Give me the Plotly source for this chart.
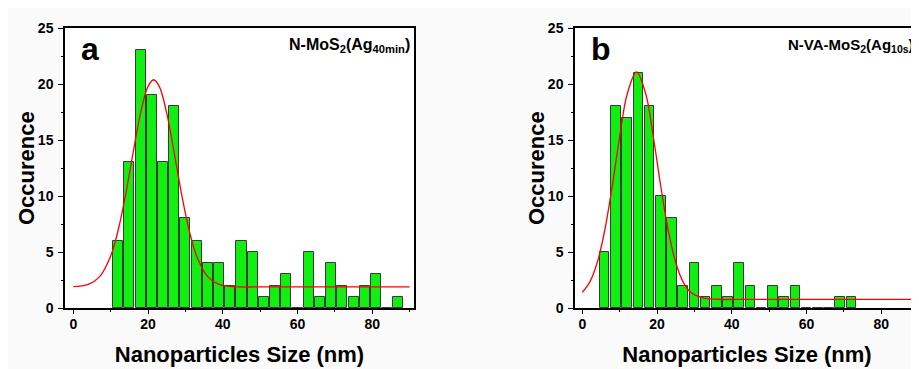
import plotly.graph_objects as go

# ---------------- data ----------------
a_bin_centers = [12, 15, 18, 21, 24, 27, 30, 33, 36, 39, 42, 45, 48, 51, 54, 57,
                 60, 63, 66, 69, 72, 75, 78, 81, 84, 87]
a_counts = [6, 13, 23, 19, 13, 18, 8, 6, 4, 4, 2, 6, 5, 1, 2, 3,
            0, 5, 1, 4, 2, 1, 2, 3, 0, 1]

b_bin_centers = [6, 9, 12, 15, 18, 21, 24, 27, 30, 33, 36, 39, 42, 45, 48, 51,
                 54, 57, 60, 63, 66, 69, 72]
b_counts = [5, 18, 17, 21, 18, 10, 8, 2, 4, 1, 2, 1, 4, 2, 0, 2,
            1, 2, 0, 0, 0, 1, 1]

# fitted curves
a_fit_x = [0, 4, 7, 10, 12, 14, 16, 18, 20, 21.5, 23, 25, 27, 29, 31, 33, 36, 39, 43, 50, 90]
a_fit_y = [1.90, 2.11, 2.78, 4.65, 6.94, 10.13, 13.86, 17.40, 19.79, 20.38, 19.79,
           17.40, 13.86, 10.13, 6.94, 4.65, 2.78, 2.11, 1.90, 1.88, 1.88]

b_fit_x = [0, 2, 4, 6, 8, 10, 12, 14.5, 17, 19, 21, 23, 25, 27, 29, 32, 36, 45, 95]
b_fit_y = [1.40, 2.31, 4.06, 6.92, 10.87, 15.29, 19.08, 21.07, 19.08, 15.29, 10.87,
           6.92, 4.06, 2.31, 1.40, 0.93, 0.78, 0.77, 0.77]

x_tick_vals = [0, 20, 40, 60, 80]
y_tick_vals = [0, 5, 10, 15, 20, 25]

panel_letters = ["a", "b"]
panel_labels = ["N-MoS<sub>2</sub>(Ag<sub>40min</sub>)",
                "N-VA-MoS<sub>2</sub>(Ag<sub>10s</sub>)"]
x_title = "Nanoparticles Size (nm)"
y_title = "Occurence"

# ---------------- figure ----------------
# page has an 8px body margin, so the figure is 8px smaller than the window
OFF = 8
W, H = 919 - OFF, 369 - OFF
FONT = "Liberation Sans, Arial, sans-serif"
BAR_COLOR = "#11ee11"

fig = go.Figure()

fig.add_trace(go.Bar(x=a_bin_centers, y=a_counts, width=2.7,
                     marker=dict(color=BAR_COLOR, line=dict(color="#3a3a3a", width=1)),
                     xaxis="x", yaxis="y", showlegend=False))
fig.add_trace(go.Scatter(x=a_fit_x, y=a_fit_y, mode="lines", line_shape="spline",
                         line=dict(color="#ff0000", width=1.3),
                         xaxis="x", yaxis="y", showlegend=False))
fig.add_trace(go.Bar(x=b_bin_centers, y=b_counts, width=2.55,
                     marker=dict(color=BAR_COLOR, line=dict(color="#3a3a3a", width=1)),
                     xaxis="x2", yaxis="y2", showlegend=False))
fig.add_trace(go.Scatter(x=b_fit_x, y=b_fit_y, mode="lines", line_shape="spline",
                         line=dict(color="#ff0000", width=1.3),
                         xaxis="x2", yaxis="y2", showlegend=False))

tickfont = dict(family=FONT, size=14, color="black", weight="bold")
titlefont = dict(family=FONT, size=22, color="black", weight="bold")

def xax(domain, rng, anchor):
    return dict(domain=domain, range=rng, anchor=anchor,
                showgrid=False, zeroline=False,
                showline=True, linecolor="black", linewidth=1.5, mirror=True,
                ticks="outside", ticklen=4, tickwidth=1.3, tickcolor="black",
                ticklabelstandoff=-2,
                tickvals=x_tick_vals, tickfont=tickfont,
                minor=dict(dtick=10, tick0=0, ticks="outside", ticklen=2.5,
                           tickwidth=1.2, tickcolor="black"),
                title=dict(text=x_title, font=titlefont, standoff=16))

def yax(domain, anchor, mirror):
    return dict(domain=domain, range=[0, 25], anchor=anchor,
                showgrid=False, zeroline=False,
                showline=True, linecolor="black", linewidth=1.5, mirror=mirror,
                ticks="outside", ticklen=5, tickwidth=1.3, tickcolor="black",
                ticklabelstandoff=2,
                tickvals=y_tick_vals, tickfont=tickfont,
                minor=dict(dtick=2.5, tick0=0, ticks="outside", ticklen=2.5,
                           tickwidth=1.2, tickcolor="black"))

# plot-area positions in page pixels
a_left, a_right = 65 - OFF, 414 - OFF
b_left = 575 - OFF
top, bottom = 28 - OFF, 308 - OFF
px_per_unit = 3.737
a_x0 = 73.3 - OFF   # pixel of x = 0 in panel a
b_x0 = 582.3 - OFF  # pixel of x = 0 in panel b

fig.update_layout(
    width=W, height=H,
    margin=dict(l=0, r=0, t=top, b=H - bottom, pad=0),
    paper_bgcolor="#fafafa",
    plot_bgcolor="white",
    bargap=0,
    xaxis=xax([a_left / W, a_right / W],
              [(a_left - a_x0) / px_per_unit, (a_right - a_x0) / px_per_unit], "y"),
    yaxis=yax([0, 1], "x", True),
    xaxis2=xax([b_left / W, 1.0],
               [(b_left - b_x0) / px_per_unit, (W - b_x0) / px_per_unit], "y2"),
    yaxis2=yax([0, 1], "x2", False),
)

# y-axis titles (rotated), positioned 39px left of each y axis
for left in (a_left, b_left):
    fig.add_annotation(text=y_title, xref="paper", yref="paper",
                       x=(left - 39) / W, y=0.5, xanchor="center", yanchor="middle",
                       textangle=-90, showarrow=False, font=titlefont)

# panel letters and sample labels
for i, (xr, yr) in enumerate([("x domain", "y domain"), ("x2 domain", "y2 domain")]):
    fig.add_annotation(text=panel_letters[i], xref=xr, yref=yr,
                       x=0.04, y=0.995, xanchor="left", yanchor="top",
                       showarrow=False,
                       font=dict(family=FONT, size=32, color="black", weight="bold"))

fig.add_annotation(text=panel_labels[0], xref="x domain", yref="y domain",
                   x=0.995, y=0.98, xanchor="right", yanchor="top", showarrow=False,
                   font=dict(family=FONT, size=16, color="black", weight="bold"))
fig.add_annotation(text=panel_labels[1], xref="paper", yref="y2 domain",
                   x=(786 - OFF) / W, y=0.98, xanchor="left", yanchor="top",
                   showarrow=False,
                   font=dict(family=FONT, size=15, color="black", weight="bold"))

fig.write_html("out.html")
